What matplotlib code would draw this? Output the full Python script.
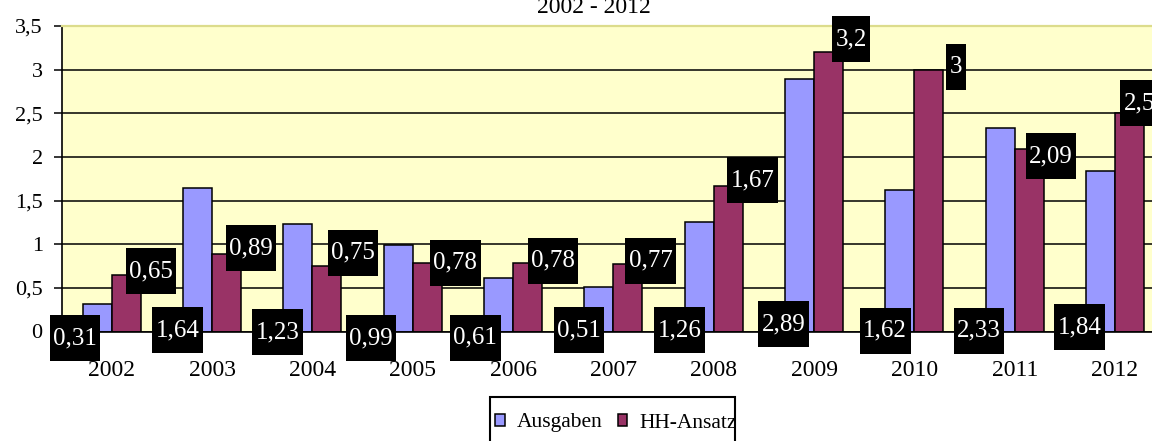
import matplotlib
matplotlib.use("Agg")
import matplotlib.pyplot as plt
from matplotlib.path import Path
from matplotlib.patches import Patch, Rectangle
import numpy as np

# ---- data ----
years = ["2002", "2003", "2004", "2005", "2006", "2007", "2008", "2009", "2010", "2011", "2012"]
ausgaben = [0.31, 1.64, 1.23, 0.99, 0.61, 0.51, 1.26, 2.89, 1.62, 2.33, 1.84]
hh_ansatz = [0.65, 0.89, 0.75, 0.78, 0.78, 0.77, 1.67, 3.2, 3.0, 2.09, 2.5]
series_names = ["Ausgaben", "HH-Ansatz"]
title_text = "2002 - 2012"
y_ticks = [0, 0.5, 1, 1.5, 2, 2.5, 3, 3.5]

# ---- label layout offsets (pixels, relative to anchor) ----
aus_label_dx = [-22.1, -20.1, -20.3, -27.1, -23.4, -19.8, -19.6, -15.7, -14.7, -21.1, -20.9]
aus_label_dy = [-6.8, 1.5, -0.8, -6.8, -6.0, 1.5, 1.5, 7.2, 0.8, 0.8, 4.5]
hh_label_dx = [24.8, 24.5, 26.1, 28.1, 25.5, 22.8, 24.5, 22.5, 27.2, 21.8, 9.5]
hh_label_dy = [3.8, 5.5, 13.2, 0.7, 2.6, 3.5, 5.7, 12.9, 2.6, -7.2, 10.3]

plt.rcParams['font.family'] = ['Liberation Serif', 'DejaVu Serif']

W, H = 1152, 441
fig = plt.figure(figsize=(W / 100, H / 100), dpi=100)
ax_left, ax_right, ax_top, ax_bottom = 61.5, 1165.2, 26.0, 331.5
ax = fig.add_axes([ax_left / W, 1 - ax_bottom / H, (ax_right - ax_left) / W, (ax_bottom - ax_top) / H])

c_aus = '#9999FF'
c_hh = '#993366'
ax.set_facecolor('#FFFFCC')

x = np.arange(len(years))
bw = 0.29
ax.bar(x - bw / 2, ausgaben, bw, color=c_aus, edgecolor='black', linewidth=1.1, zorder=2)
ax.bar(x + bw / 2, hh_ansatz, bw, color=c_hh, edgecolor='black', linewidth=1.1, zorder=2)

ax.set_xlim(-0.5, len(years) - 0.5)
ax.set_ylim(0, 3.5)


def fmt(v):
    return f"{v:g}".replace('.', ',')


ax.set_yticks(y_ticks)
ax.set_yticklabels([fmt(v) for v in y_ticks], fontsize=16)
ax.set_xticks(x)
ax.set_xticklabels(years, fontsize=17)
ax.tick_params(axis='y', length=6, width=1.1, pad=7.5, color='black')
ax.tick_params(axis='x', length=0, pad=20.5)

ax.set_axisbelow(True)
ax.yaxis.grid(True, color='black', linewidth=1.1)

for s in ['left', 'bottom']:
    ax.spines[s].set_color('black')
    ax.spines[s].set_linewidth(1.2)
ax.spines['right'].set_visible(False)
ax.spines['top'].set_color('#DCDC8C')
ax.spines['top'].set_linewidth(1.6)


def label_box(x0, y0, width, height, mutation_size):
    px = 0.14 * mutation_size
    py = 0.48 * mutation_size
    xa, ya = x0 - px, y0 - py
    xb, yb = x0 + width + px, y0 + height + py
    return Path([(xa, ya), (xb, ya), (xb, yb), (xa, yb), (xa, ya)], closed=True)


lab_kw = dict(textcoords='offset pixels', ha='center', va='center', fontsize=18, color='white',
              bbox=dict(boxstyle=label_box, facecolor='black', edgecolor='none'),
              annotation_clip=False, zorder=5)

for i, v in enumerate(ausgaben):
    ax.annotate(fmt(v), xy=(x[i] - bw / 2, 0), xytext=(aus_label_dx[i], aus_label_dy[i]), **lab_kw)
for i, v in enumerate(hh_ansatz):
    ax.annotate(fmt(v), xy=(x[i] + bw / 2, v), xytext=(hh_label_dx[i], hh_label_dy[i]), **lab_kw)

fig.text(594 / W, 1 - 13 / H, title_text, ha='center', va='baseline', fontsize=17)

# legend frame (drawn separately so the vertical padding can exceed the horizontal one)
fig.patches.append(Rectangle((490 / W, 1 - 452 / H), (735 - 490) / W, (452 - 396.7) / H,
                             transform=fig.transFigure, facecolor='white', edgecolor='black',
                             linewidth=1.5, zorder=1))
handles = [Patch(facecolor=c_aus, edgecolor='black', linewidth=1.1),
           Patch(facecolor=c_hh, edgecolor='black', linewidth=1.1)]
leg = fig.legend(handles, series_names, loc='center left', bbox_to_anchor=(493 / W, 1 - 423 / H),
                 ncol=2, frameon=False, borderaxespad=0, borderpad=0.1,
                 handlelength=0.45, handleheight=0.45, handletextpad=0.55,
                 columnspacing=0.7, fontsize=15.5)
leg.set_zorder(3)

fig.savefig('out.png', dpi=100)
